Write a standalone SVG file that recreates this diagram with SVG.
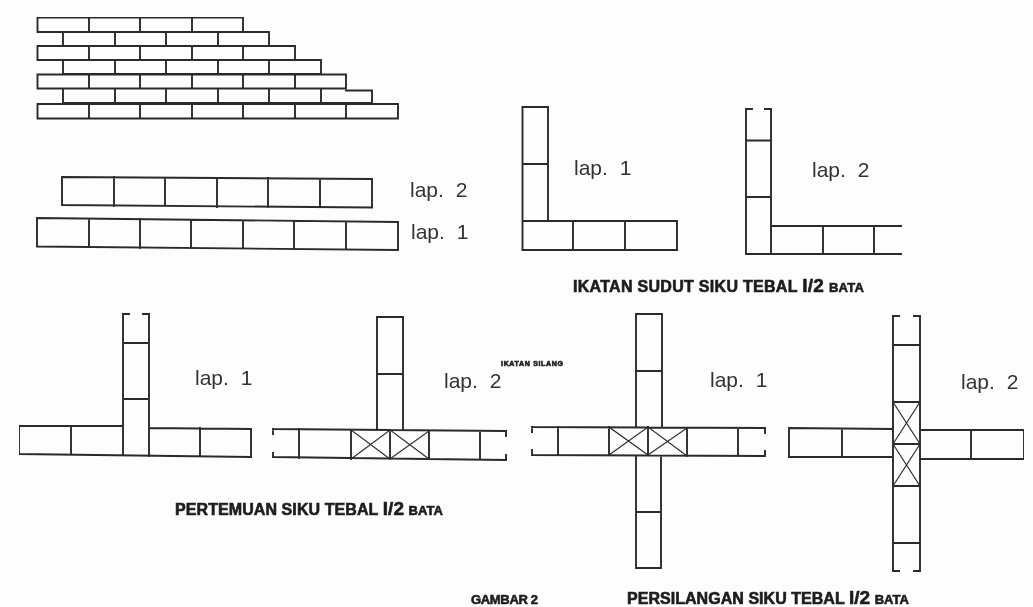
<svg xmlns="http://www.w3.org/2000/svg" width="1033" height="607" viewBox="0 0 1033 607">
<style>
.l{fill:none;stroke:#2a2a2a;stroke-width:1.9;stroke-linecap:square}
.t{stroke:#2e2e2e;stroke-width:1.2}
.lap{font-family:"Liberation Sans",Arial,sans-serif;font-size:21px;fill:#333;word-spacing:6px}
.ttl{font-family:"Liberation Sans",Arial,sans-serif;font-weight:700;font-size:16px;fill:#1c1c1c;stroke:#1c1c1c;stroke-width:.6}
.sm{font-size:13px}
.big{font-size:19px}
</style>
<defs><filter id="soft" x="0" y="0" width="100%" height="100%"><feGaussianBlur stdDeviation=".45"/></filter></defs>
<rect width="1033" height="607" fill="#fdfdfd"/>
<g filter="url(#soft)">
<g id="wall" class="l">
<path d="M37.5 17.5H243V32H37.5ZM89 17.5V32M140 17.5V32M192 17.5V32"/>
<path d="M63 32V46M63 46H269V32H63M115 32V46M166 32V46M218 32V46"/>
<path d="M37.5 46H295V60H37.5ZM89 46V60M140 46V60M192 46V60M243 46V60"/>
<path d="M63 60V74M63 74H321V60H295M115 60V74M166 60V74M218 60V74M269 60V74"/>
<path d="M37.5 74.5H346V88.500H37.5ZM89 74V88M140 74V88M192 74V88M243 74V88M295 74V88"/>
<path d="M63 89V103M63 103H372V90.500H346M115 89V103M166 89V103M218 89V103M269 89V103M321 89V103"/>
<path d="M37.5 104H398V118.5H37.5ZM89 104V118M140 104V118M192 104V118M243 104V118M295 104V118M346 105V118"/>
</g>
<g id="course-lap-2" class="l"><path d="M62 177L372 179V207.5L62 205ZM114 177V206M165 178V206M217 178V207M268 178V207M320 179V207"/></g>
<g id="course-lap-1" class="l"><path d="M37 218L398 222V250L37 246.5ZM89 219V247M140 219V248M191 220V248M243 221V248M294 221V249M346 222V249"/></g>

<g id="corner-lap-1" class="l"><path d="M522.5 107H548V221M522.5 107V250M522.5 164H548M522.5 221H677V250H522.5ZM573 221V250M625 221V250"/></g>
<g id="corner-lap-2" class="l"><path d="M752 109H746V254H901M765 109H771V226H901M746 140.5H771M746 197H771M771 226V254M823 226V254M874 226V254"/></g>

<g id="tee-lap-1" class="l"><path d="M123 426H19V454L251 457V429L149 428M71 427V454M200 428V456M129 314H123V455M143 314H149V456M123 343H149M123 399H149"/></g>
<g id="tee-lap-2" class="l"><path d="M377 430V317H403V430M377 374H403M273 429L506 431M273 457L506 460M299 429V458M351 430V459M390 430V459M429 431V459M480 431V459M273 429V434M273 453V457M506 431V436M506 455V460"/>
<path class="t" d="M351 430L390 459M390 430L351 459M390 430L429 459M429 431L390 459"/></g>

<g id="cross-lap-1" class="l"><path d="M636 427V314H662V427M636 371H662M636 456V568H661V456M636 512H661M532 427L765 428M532 455L765 456M558 427V455M609 427V455M648 427V455M687 428V456M738 428V456M532 427V432M532 450V455M765 428V433M765 451V456"/>
<path class="t" d="M609 427L648 455M648 427L609 455M648 427L687 456M687 428L648 455"/></g>

<g id="cross-lap-2" class="l"><path d="M899 316H893V571H899M914 316H920V571H914M893 345H920M893 402H920M893 444H920M893 486H920M893 543H920M893 429L789 428V457H893M920 430H1024V459H920M842 429V457M971 431V458"/>
<path class="t" d="M893 402L920 444M920 402L893 444M893 444L920 486M920 444L893 486"/></g>

<g id="labels">
<text class="lap" x="410" y="197">lap. 2</text>
<text class="lap" x="411" y="239">lap. 1</text>
<text class="lap" x="574" y="175">lap. 1</text>
<text class="lap" x="812" y="177">lap. 2</text>
<text class="lap" x="195" y="385">lap. 1</text>
<text class="lap" x="444" y="388">lap. 2</text>
<text class="lap" x="710" y="387">lap. 1</text>
<text class="lap" x="961" y="389">lap. 2</text>
</g>
<g id="titles">
<text class="ttl" x="573" y="292" textLength="291">IKATAN SUDUT SIKU TEBAL <tspan class="big">I/2</tspan> <tspan class="sm">BATA</tspan></text>
<text class="ttl" x="175" y="515" textLength="268">PERTEMUAN SIKU TEBAL <tspan class="big">I/2</tspan> <tspan class="sm">BATA</tspan></text>
<text class="ttl" x="627" y="604" textLength="282">PERSILANGAN SIKU TEBAL <tspan class="big">I/2</tspan> <tspan class="sm">BATA</tspan></text>
<text class="ttl sm" x="471" y="604" textLength="67">GAMBAR 2</text>
<text class="ttl" style="font-size:7px" x="501" y="366" textLength="62">IKATAN SILANG</text>
</g>
</g>
</svg>
